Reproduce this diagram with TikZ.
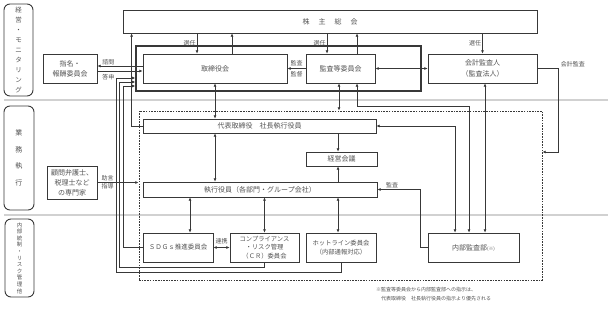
\documentclass[tikz,border=0pt]{standalone}
\usepackage{fontspec}
\setmainfont{Noto Sans CJK JP}
\usepackage{xcolor}
\usepackage{tikz}
\usetikzlibrary{arrows.meta, positioning, calc}
\definecolor{inkline}{gray}{0.22}
\definecolor{inktext}{gray}{0.32}
\newcommand{\jfont}[2]{\fontsize{#1}{#2}\selectfont}
\newcommand{\kspace}{\hspace{9pt}}

\begin{document}
\begin{tikzpicture}[
    x=1pt, y=-1pt,
    unit/.style={draw=inkline, line width=0.8pt, inner sep=0pt, align=center, text=inktext, font=\jfont{7}{10}},
    group/.style={draw=inkline, line width=1.4pt, inner sep=0pt},
    area/.style={draw=inkline, line width=0.9pt, dash pattern=on 1.6pt off 1.1pt, inner sep=0pt},
    tag/.style={draw=inkline, line width=0.9pt, rounded corners=6pt, inner sep=0pt, align=center, text=inktext},
    arr/.style={-{Latex[length=3.2pt,width=3pt]}, draw=inkline, line width=0.8pt},
    darr/.style={{Latex[length=3.2pt,width=3pt]}-{Latex[length=3.2pt,width=3pt]}, draw=inkline, line width=0.8pt},
    lbl/.style={font=\jfont{6}{6.5}, text=inktext, inner sep=1pt},
    divider/.style={draw=black!18, line width=1.4pt}
]
    \useasboundingbox (0,0) rectangle (612,310);

    % Row labels
    \node[tag, minimum width=29pt, minimum height=92pt, font=\jfont{6.5}{10}] (rowmon) at (18.5,50) {経\\営\\・\\モ\\ニ\\タ\\リ\\ン\\グ};
    \node[tag, minimum width=30pt, minimum height=104pt, font=\jfont{7}{16.5}] (rowexe) at (19,158) {業\\務\\執\\行};
    \node[tag, minimum width=29pt, minimum height=78pt, font=\jfont{5.5}{6.6}] (rowrisk) at (19.5,258) {内\\部\\統\\制\\・\\リ\\ス\\ク\\管\\理\\他};

    % Dividers
    \draw[divider] (4,100) -- (608,100);
    \draw[divider] (4,215) -- (608,215);

    % Monitoring
    \node[unit, minimum width=414pt, minimum height=23pt] (kabu) at (330,21.5) {株\kspace 主\kspace 総\kspace 会};
    \node[group, minimum width=285pt, minimum height=45pt] (board) at (278.5,68.5) {};
    \node[unit, minimum width=144pt, minimum height=29pt] (tori) at (215,68.5) {取締役会};
    \node[unit, minimum width=69pt, minimum height=29pt] (kansa) at (340.5,68.5) {監査等委員会};
    \node[unit, minimum width=109pt, minimum height=29pt, font=\jfont{7}{11}] (kaikei) at (482.5,68.5) {会計監査人\\（監査法人）};
    \node[unit, minimum width=54pt, minimum height=29pt] (shimei) at (70,68.5) {指名・\\報酬委員会};

    % Execution
    \node[area, minimum width=403pt, minimum height=169pt] (jigyo) at (340.5,195.5) {};
    \node[unit, minimum width=233pt, minimum height=14pt] (daihyo) at (259.5,126) {代表取締役\hspace{7pt}社長執行役員};
    \node[unit, minimum width=71pt, minimum height=14pt] (keiei) at (341.5,159) {経営会議};
    \node[unit, minimum width=234pt, minimum height=15pt] (shikko) at (260,189.5) {執行役員（各部門・グループ会社）};
    \node[unit, minimum width=50pt, minimum height=33pt] (komon) at (72,182.5) {顧問弁護士、\\税理士など\\の専門家};

    % Internal control
    \node[unit, minimum width=70pt, minimum height=29pt, font=\jfont{6.5}{9}] (sdgs) at (178,247.5) {ＳＤＧｓ推進委員会};
    \node[unit, minimum width=69pt, minimum height=29pt, font=\jfont{6.3}{8.5}] (cr) at (264.5,247.5) {コンプライアンス\\・リスク管理\\（ＣＲ）委員会};
    \node[unit, minimum width=70pt, minimum height=29pt, font=\jfont{6.3}{9.5}] (hotline) at (341,247.5) {ホットライン委員会\\（内部通報対応）};
    \node[unit, minimum width=91pt, minimum height=29pt] (naibu) at (473.5,247.5) {内部監査部{\jfont{4.5}{5}(※)}};

    % Shareholders
    \draw[arr] ([xshift=-18pt]tori.north |- kabu.south) -- ([xshift=-18pt]tori.north) node[lbl, midway, left] {選任};
    \draw[arr] ([xshift=17pt]tori.north) -- ([xshift=17pt]tori.north |- kabu.south);
    \draw[arr] ([xshift=-13.5pt]kansa.north |- kabu.south) -- ([xshift=-13.5pt]kansa.north) node[lbl, midway, left] {選任};
    \draw[arr] ([xshift=16.5pt]kansa.north) -- ([xshift=16.5pt]kansa.north |- kabu.south);
    \draw[arr] (kaikei.north |- kabu.south) -- (kaikei.north) node[lbl, midway, left] {選任};

    % Board relations
    \draw[arr] (kansa.west) -- (tori.east) node[lbl, midway, above=1.5pt] {監査} node[lbl, midway, below=1.5pt] {監督};
    \draw[darr] (kansa.east) -- (kaikei.west);
    \draw[arr] (kaikei.east) -- ++(21,0) |- ([yshift=43.5pt]jigyo.east) node[lbl, pos=0, above right, xshift=1pt] {会計監査};
    \draw[arr] ([yshift=2.5pt]tori.west) -- ([yshift=2.5pt]tori.west -| shimei.east) node[lbl, pos=0.76, above] {諮問};
    \draw[arr] ([yshift=-2.5pt]shimei.east) -- ([yshift=-2.5pt]shimei.east -| tori.west) node[lbl, pos=0.24, below=1.5pt] {答申};

    % Reports up to the board
    \draw[arr] (hotline.south) -- ++(0,10) -| ([xshift=-19pt,yshift=-9.5pt]board.west) -- ([yshift=-9.5pt]board.west);
    \draw[arr] (cr.south) -- ++(0,5) -| ([xshift=-16pt,yshift=-13.5pt]board.west) -- ([yshift=-13.5pt]board.west);
    \draw[arr] (sdgs.west) -| ([xshift=-12pt,yshift=-17.5pt]board.west) -- ([yshift=-17.5pt]board.west);
    \draw[arr] (daihyo.west) -- ++(-11,0) coordinate (upbend) -- (upbend |- kabu.south);

    % Execution relations
    \draw[darr] (tori.south) -- (tori.south |- daihyo.north);
    \draw[darr] ([xshift=-1.5pt]kansa.south) -- ([xshift=-1.5pt]kansa.south |- jigyo.north);
    \draw[darr] ([xshift=16.5pt]kansa.south) -- ++(0,23) -| ([xshift=-4.5pt]naibu.north);
    \draw[darr] (daihyo.east) -| ([xshift=-18.5pt]naibu.north);
    \draw[darr] ([xshift=11.5pt]naibu.north) -- ([xshift=11.5pt]naibu.north |- kaikei.south);
    \draw[arr] (naibu.west) -- ++(-7,0) |- (shikko.east) node[lbl, pos=0.83, above] {監査};
    \draw[arr] ([xshift=-3.5pt]keiei.north |- daihyo.south) -- ([xshift=-3.5pt]keiei.north);
    \draw[arr] ([xshift=-3.5pt]keiei.south |- shikko.north) -- ([xshift=-3.5pt]keiei.south);
    \draw[darr] ([xshift=-44.5pt]daihyo.south) -- ([xshift=-44.5pt]daihyo.south |- shikko.north);
    \draw[arr] (komon.east) -- (komon.east -| jigyo.west) node[lbl, pos=0.25, above] {助言} node[lbl, pos=0.25, below] {指導};

    % Committees
    \draw[darr] ([xshift=12pt]sdgs.north |- shikko.south) -- ([xshift=12pt]sdgs.north);
    \draw[darr] (cr.north |- shikko.south) -- (cr.north);
    \draw[darr] ([xshift=-3pt]hotline.north |- shikko.south) -- ([xshift=-3pt]hotline.north);
    \draw[darr] (sdgs.east) -- (cr.west) node[lbl, midway, above=2pt] {連携};

    % Note
    \node[lbl, anchor=west, inner sep=0pt, font=\jfont{5}{6}] (note1) at (376,290) {※監査等委員会から内部監査部への指示は、};
    \node[lbl, anchor=west, inner sep=0pt, font=\jfont{5}{6}] (note2) at (381,299) {代表取締役　社長執行役員の指示より優先される};
\end{tikzpicture}
\end{document}
